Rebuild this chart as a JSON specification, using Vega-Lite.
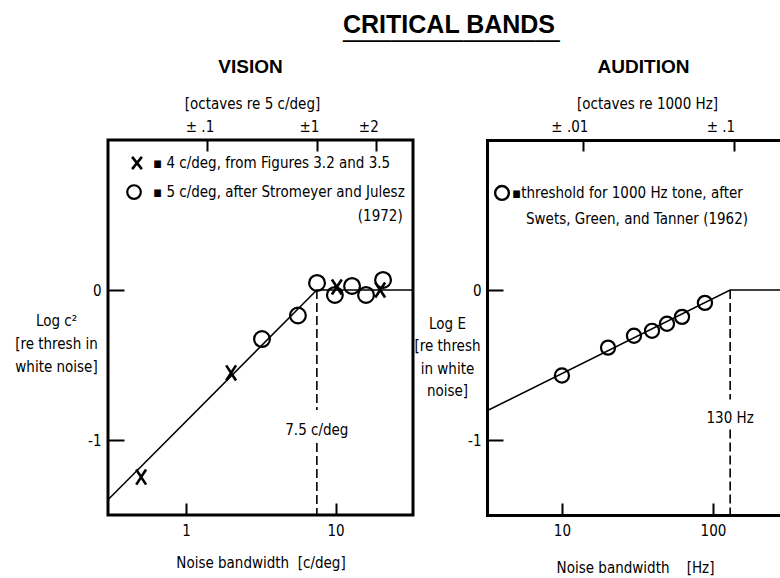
{
  "$schema": "https://vega.github.io/schema/vega-lite/v6.json",
  "autosize": {"type": "none"},
  "padding": {"left": 108, "top": 140, "right": 672, "bottom": 438},
  "background": "white",
  "title": {
    "text": "CRITICAL BANDS",
    "subtitle": "──────────────────",
    "font": "Liberation Sans",
    "fontWeight": "bold",
    "fontSize": 25,
    "color": "black",
    "subtitleFont": "DejaVu Sans Mono",
    "subtitleFontSize": 20,
    "subtitleColor": "black",
    "subtitlePadding": -6,
    "frame": "group",
    "anchor": "start",
    "dx": 235,
    "offset": 5
  },
  "datasets": {
    "visionLine": [
      {"bw": 0.3, "logc": -1.398},
      {"bw": 7.5, "logc": 0},
      {"bw": 33, "logc": 0}
    ],
    "visionX": [
      {"bw": 0.5, "logc": -1.247},
      {"bw": 2.0, "logc": -0.553},
      {"bw": 10.2, "logc": 0.02},
      {"bw": 19.9, "logc": 0.0}
    ],
    "visionO": [
      {"bw": 3.22, "logc": -0.327},
      {"bw": 5.6, "logc": -0.17},
      {"bw": 7.52, "logc": 0.047},
      {"bw": 9.9, "logc": -0.033},
      {"bw": 12.9, "logc": 0.027},
      {"bw": 16.0, "logc": -0.033},
      {"bw": 20.8, "logc": 0.067}
    ],
    "visionDash": [
      {"bw": 7.5, "top": 0, "bottom": -0.8},
      {"bw": 7.5, "top": -1.02, "bottom": -1.5}
    ],
    "visionKeyX": [{"bw": 0.469, "v": 0.847}],
    "visionKeyO": [{"bw": 0.448, "v": 0.653}],
    "visionNotes": [
      {"bw": 0.6, "v": 0.847, "note": "▪ 4 c/deg, from Figures 3.2 and 3.5"},
      {"bw": 0.6, "v": 0.653, "note": "▪ 5 c/deg, after Stromeyer and Julesz"},
      {"bw": 14.1, "v": 0.493, "note": "(1972)"}
    ],
    "visionMark": [{"bw": 7.5, "v": -0.933, "note": "7.5 c/deg"}],
    "auditionLine": [
      {"bw": 3.19, "loge": -0.805},
      {"bw": 130, "loge": 0},
      {"bw": 278, "loge": 0}
    ],
    "auditionO": [
      {"bw": 10, "loge": -0.57},
      {"bw": 20.2, "loge": -0.384},
      {"bw": 30, "loge": -0.305},
      {"bw": 39.5, "loge": -0.272},
      {"bw": 49.6, "loge": -0.225},
      {"bw": 62.4, "loge": -0.179},
      {"bw": 88.5, "loge": -0.086}
    ],
    "auditionDash": [
      {"bw": 130, "top": 0, "bottom": -0.73},
      {"bw": 130, "top": -0.93, "bottom": -1.5}
    ],
    "auditionKeyO": [{"bw": 4.01, "v": 0.647}],
    "auditionNotes": [
      {"bw": 4.67, "v": 0.647, "note": "▪threshold for 1000 Hz tone, after"},
      {"bw": 5.78, "v": 0.473, "note": "Swets, Green, and Tanner (1962)"}
    ],
    "auditionMark": [{"bw": 130, "v": -0.853, "note": "130 Hz"}]
  },
  "spacing": 74,
  "bounds": "flush",
  "hconcat": [
    {
      "width": 305,
      "height": 375,
      "view": {"stroke": "black", "strokeWidth": 3},
      "resolve": {"axis": {"x": "independent", "y": "independent"}},
      "title": {
        "text": "VISION",
        "font": "Liberation Sans",
        "fontWeight": "bold",
        "fontSize": 19,
        "color": "black",
        "frame": "group",
        "anchor": "middle",
        "dx": -10,
        "offset": 19
      },
      "layer": [
        {
          "data": {"name": "visionDash"},
          "mark": {"type": "rule", "strokeDash": [9, 4], "strokeWidth": 1.6, "color": "black"},
          "encoding": {
            "x": {
              "field": "bw", "type": "quantitative",
              "scale": {"type": "log", "domain": [0.3, 33], "nice": false},
              "axis": {
                "orient": "bottom",
                "values": [1, 10],
                "labelExpr": "datum.value == 1 ? '1' : '10'",
                "domain": false,
                "tickSize": -12,
                "tickWidth": 2,
                "labelPadding": 20,
                "labelFontSize": 15,
                "title": "Noise bandwidth\u00a0\u00a0[c/deg]",
                "titleFontSize": 15,
                "titleFontWeight": "normal",
                "titlePadding": 17
              }
            },
            "y": {
              "field": "top", "type": "quantitative",
              "scale": {"domain": [-1.5, 1], "nice": false, "zero": false},
              "axis": {
                "orient": "left",
                "values": [0, -1],
                "labelExpr": "datum.value == 0 ? '0' : '-1'",
                "domain": false,
                "tickSize": -16,
                "tickWidth": 2,
                "labelPadding": 23,
                "labelFontSize": 15,
                "title": ["Log c²", "[re thresh in", "white noise]"],
                "titleAngle": 0,
                "titleX": -52,
                "titleY": 185,
                "titleAlign": "center",
                "titleBaseline": "alphabetic",
                "titleLineHeight": 23,
                "titleFontSize": 15,
                "titleFontWeight": "normal"
              }
            },
            "y2": {"field": "bottom"}
          }
        },
        {
          "data": {"name": "visionLine"},
          "mark": {"type": "line", "strokeWidth": 1.5, "color": "black"},
          "encoding": {
            "x": {
              "field": "bw", "type": "quantitative",
              "scale": {"type": "log", "domain": [0.3, 33], "nice": false},
              "axis": {
                "orient": "top",
                "values": [1.39, 7.5, 18.75],
                "labelExpr": "datum.value < 2 ? '± .1' : datum.value < 10 ? '±1' : '±2'",
                "domain": false,
                "tickSize": -11,
                "tickWidth": 2,
                "labelPadding": 17,
                "labelOffset": -8,
                "labelFontSize": 15,
                "title": "[octaves re 5 c/deg]",
                "titleFontSize": 15,
                "titleFontWeight": "normal",
                "titlePadding": 8,
                "titleX": 144
              }
            },
            "y": {
              "field": "logc", "type": "quantitative",
              "scale": {"domain": [-1.5, 1], "nice": false, "zero": false},
              "axis": null
            }
          }
        },
        {
          "data": {"name": "visionO"},
          "mark": {"type": "point", "shape": "circle", "filled": false, "size": 250, "strokeWidth": 2.2, "color": "black", "opacity": 1},
          "encoding": {
            "x": {"field": "bw", "type": "quantitative", "scale": {"type": "log", "domain": [0.3, 33], "nice": false}, "axis": null},
            "y": {"field": "logc", "type": "quantitative", "scale": {"domain": [-1.5, 1], "nice": false, "zero": false}, "axis": null}
          }
        },
        {
          "data": {"name": "visionX"},
          "mark": {"type": "point", "shape": "M-0.65,-1L0.65,1M0.65,-1L-0.65,1", "filled": false, "size": 230, "strokeWidth": 2.6, "color": "black", "opacity": 1},
          "encoding": {
            "x": {"field": "bw", "type": "quantitative", "scale": {"type": "log", "domain": [0.3, 33], "nice": false}, "axis": null},
            "y": {"field": "logc", "type": "quantitative", "scale": {"domain": [-1.5, 1], "nice": false, "zero": false}, "axis": null}
          }
        },
        {
          "data": {"name": "visionKeyX"},
          "mark": {"type": "point", "shape": "M-0.8,-1L0.8,1M0.8,-1L-0.8,1", "filled": false, "size": 150, "strokeWidth": 2.6, "color": "black", "opacity": 1},
          "encoding": {
            "x": {"field": "bw", "type": "quantitative", "scale": {"type": "log", "domain": [0.3, 33], "nice": false}, "axis": null},
            "y": {"field": "v", "type": "quantitative", "scale": {"domain": [-1.5, 1], "nice": false, "zero": false}, "axis": null}
          }
        },
        {
          "data": {"name": "visionKeyO"},
          "mark": {"type": "point", "shape": "circle", "filled": false, "size": 185, "strokeWidth": 2.2, "color": "black", "opacity": 1},
          "encoding": {
            "x": {"field": "bw", "type": "quantitative", "scale": {"type": "log", "domain": [0.3, 33], "nice": false}, "axis": null},
            "y": {"field": "v", "type": "quantitative", "scale": {"domain": [-1.5, 1], "nice": false, "zero": false}, "axis": null}
          }
        },
        {
          "data": {"name": "visionNotes"},
          "mark": {"type": "text", "align": "left", "baseline": "middle", "fontSize": 15, "color": "black"},
          "encoding": {
            "x": {"field": "bw", "type": "quantitative", "scale": {"type": "log", "domain": [0.3, 33], "nice": false}, "axis": null},
            "y": {"field": "v", "type": "quantitative", "scale": {"domain": [-1.5, 1], "nice": false, "zero": false}, "axis": null},
            "text": {"field": "note"}
          }
        },
        {
          "data": {"name": "visionMark"},
          "mark": {"type": "text", "align": "center", "baseline": "middle", "fontSize": 15, "color": "black"},
          "encoding": {
            "x": {"field": "bw", "type": "quantitative", "scale": {"type": "log", "domain": [0.3, 33], "nice": false}, "axis": null},
            "y": {"field": "v", "type": "quantitative", "scale": {"domain": [-1.5, 1], "nice": false, "zero": false}, "axis": null},
            "text": {"field": "note"}
          }
        }
      ]
    },
    {
      "width": 293,
      "height": 375,
      "resolve": {"axis": {"x": "independent", "y": "independent"}},
      "title": {
        "text": "AUDITION",
        "font": "Liberation Sans",
        "fontWeight": "bold",
        "fontSize": 19,
        "color": "black",
        "frame": "group",
        "anchor": "middle",
        "dx": 10,
        "offset": 19
      },
      "layer": [
        {
          "data": {"name": "auditionDash"},
          "mark": {"type": "rule", "strokeDash": [9, 4], "strokeWidth": 1.6, "color": "black"},
          "encoding": {
            "x": {
              "field": "bw", "type": "quantitative",
              "scale": {"type": "log", "domain": [3.19, 278], "nice": false},
              "axis": {
                "orient": "bottom",
                "values": [10, 100],
                "labelExpr": "datum.value == 10 ? '10' : '100'",
                "domain": true,
                "domainWidth": 3,
                "domainCap": "square",
                "tickSize": -12,
                "tickWidth": 2,
                "labelPadding": 20,
                "labelFontSize": 15,
                "title": "Noise bandwidth\u00a0\u00a0\u00a0\u00a0[Hz]",
                "titleFontSize": 15,
                "titleFontWeight": "normal",
                "titlePadding": 22,
                "titleX": 148
              }
            },
            "y": {
              "field": "top", "type": "quantitative",
              "scale": {"domain": [-1.5, 1], "nice": false, "zero": false},
              "axis": {
                "orient": "left",
                "values": [0, -1],
                "labelExpr": "datum.value == 0 ? '0' : '-1'",
                "domain": true,
                "domainWidth": 3,
                "domainCap": "square",
                "tickSize": -16,
                "tickWidth": 2,
                "labelPadding": 22,
                "labelFontSize": 15,
                "title": ["Log E", "[re thresh", "in white", "noise]"],
                "titleAngle": 0,
                "titleX": -40,
                "titleY": 188,
                "titleAlign": "center",
                "titleBaseline": "alphabetic",
                "titleLineHeight": 22.5,
                "titleFontSize": 15,
                "titleFontWeight": "normal"
              }
            },
            "y2": {"field": "bottom"}
          }
        },
        {
          "data": {"name": "auditionLine"},
          "mark": {"type": "line", "strokeWidth": 1.5, "color": "black"},
          "encoding": {
            "x": {
              "field": "bw", "type": "quantitative",
              "scale": {"type": "log", "domain": [3.19, 278], "nice": false},
              "axis": {
                "orient": "top",
                "values": [13.86, 138.7],
                "labelExpr": "datum.value < 50 ? '± .01' : '± .1'",
                "domain": true,
                "domainWidth": 3,
                "domainCap": "square",
                "tickSize": -11,
                "tickWidth": 2,
                "labelPadding": 17,
                "labelOffset": -14,
                "labelFontSize": 15,
                "title": "[octaves re 1000 Hz]",
                "titleFontSize": 15,
                "titleFontWeight": "normal",
                "titlePadding": 8,
                "titleX": 160
              }
            },
            "y": {
              "field": "loge", "type": "quantitative",
              "scale": {"domain": [-1.5, 1], "nice": false, "zero": false},
              "axis": null
            }
          }
        },
        {
          "data": {"name": "auditionO"},
          "mark": {"type": "point", "shape": "circle", "filled": false, "size": 200, "strokeWidth": 2.2, "color": "black", "opacity": 1},
          "encoding": {
            "x": {"field": "bw", "type": "quantitative", "scale": {"type": "log", "domain": [3.19, 278], "nice": false}, "axis": null},
            "y": {"field": "loge", "type": "quantitative", "scale": {"domain": [-1.5, 1], "nice": false, "zero": false}, "axis": null}
          }
        },
        {
          "data": {"name": "auditionKeyO"},
          "mark": {"type": "point", "shape": "circle", "filled": false, "size": 190, "strokeWidth": 2.4, "color": "black", "opacity": 1},
          "encoding": {
            "x": {"field": "bw", "type": "quantitative", "scale": {"type": "log", "domain": [3.19, 278], "nice": false}, "axis": null},
            "y": {"field": "v", "type": "quantitative", "scale": {"domain": [-1.5, 1], "nice": false, "zero": false}, "axis": null}
          }
        },
        {
          "data": {"name": "auditionNotes"},
          "mark": {"type": "text", "align": "left", "baseline": "middle", "fontSize": 15, "color": "black"},
          "encoding": {
            "x": {"field": "bw", "type": "quantitative", "scale": {"type": "log", "domain": [3.19, 278], "nice": false}, "axis": null},
            "y": {"field": "v", "type": "quantitative", "scale": {"domain": [-1.5, 1], "nice": false, "zero": false}, "axis": null},
            "text": {"field": "note"}
          }
        },
        {
          "data": {"name": "auditionMark"},
          "mark": {"type": "text", "align": "center", "baseline": "middle", "fontSize": 15, "color": "black"},
          "encoding": {
            "x": {"field": "bw", "type": "quantitative", "scale": {"type": "log", "domain": [3.19, 278], "nice": false}, "axis": null},
            "y": {"field": "v", "type": "quantitative", "scale": {"domain": [-1.5, 1], "nice": false, "zero": false}, "axis": null},
            "text": {"field": "note"}
          }
        }
      ]
    }
  ],
  "config": {
    "font": "DejaVu Sans Condensed",
    "view": {"stroke": null},
    "axis": {
      "grid": false,
      "labelColor": "black",
      "tickColor": "black",
      "titleColor": "black",
      "domainColor": "black",
      "labelFont": "DejaVu Sans Condensed",
      "titleFont": "DejaVu Sans Condensed"
    },
    "text": {"font": "DejaVu Sans Condensed"}
  }
}
